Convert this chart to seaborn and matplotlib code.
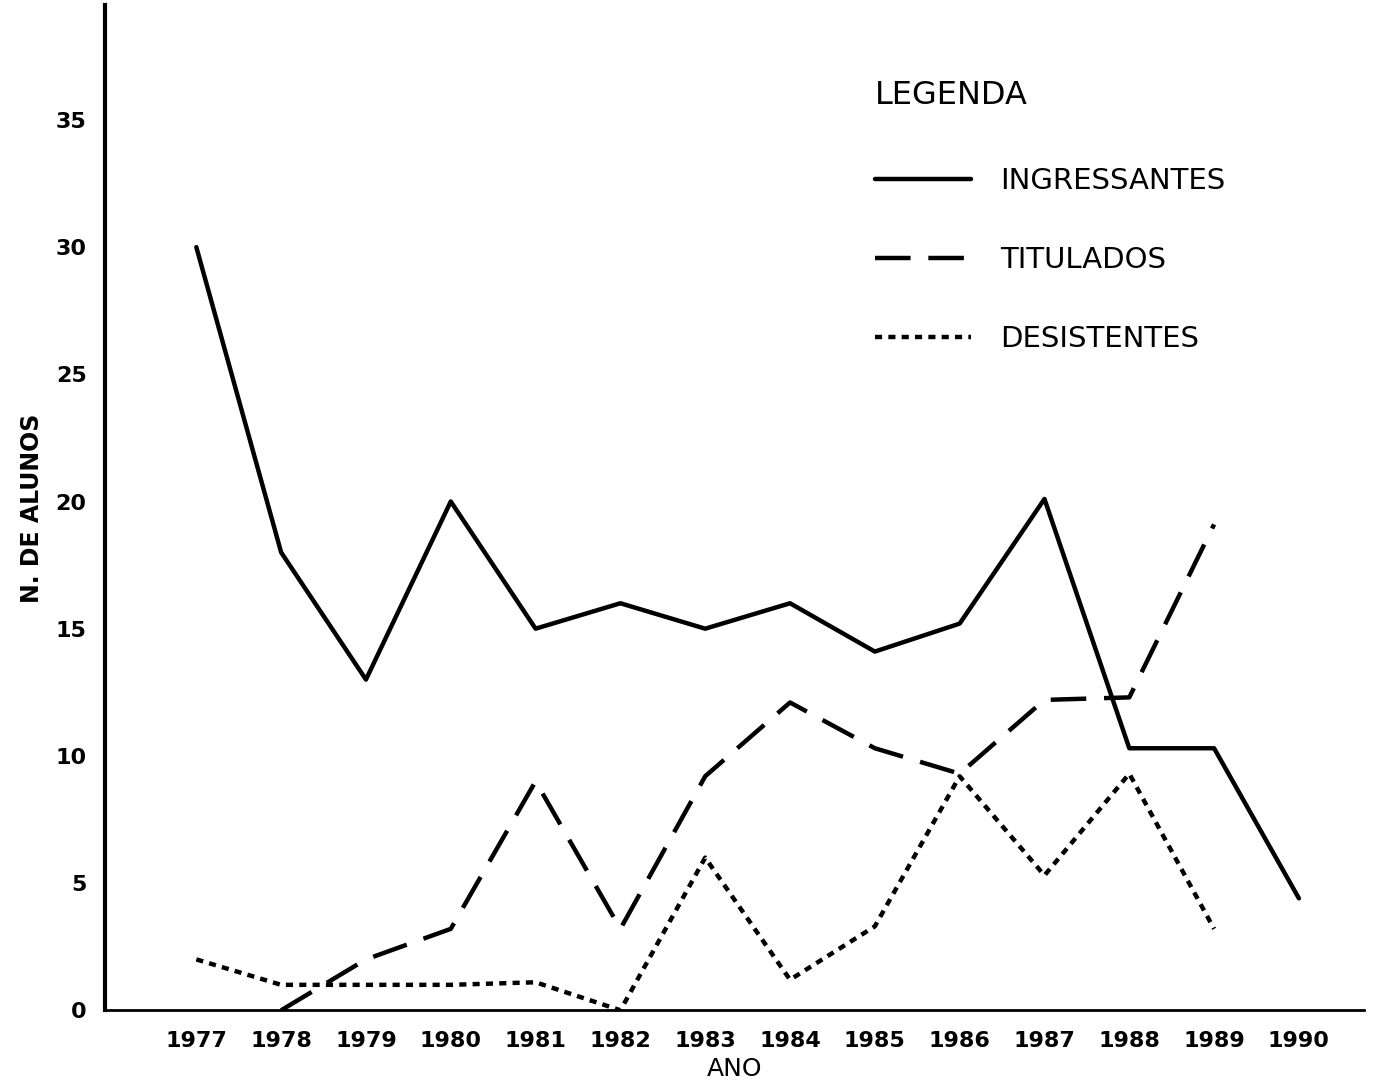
# Evolução do número de alunos por ano

import pandas as pd
import matplotlib.pyplot as plt
import seaborn as sns

anos = [1977, 1978, 1979, 1980, 1981, 1982, 1983, 1984, 1985, 1986, 1987, 1988, 1989, 1990]
ingressantes = [30, 18, 13, 20, 15, 16, 15, 16, 14.1, 15.2, 20.1, 10.3, 10.3, 4.4]
anos_tit = [1978, 1979, 1980, 1981, 1982, 1983, 1984, 1985, 1986, 1987, 1988, 1989]
titulados = [0, 2, 3.2, 9, 3.2, 9.2, 12.1, 10.3, 9.3, 12.2, 12.3, 19.1]
anos_des = [1977, 1978, 1979, 1980, 1981, 1982, 1983, 1984, 1985, 1986, 1987, 1988, 1989]
desistentes = [2, 1, 1, 1, 1.1, 0, 6, 1.2, 3.3, 9.2, 5.3, 9.3, 3.2]

df_ing = pd.DataFrame({"ano": anos, "n": ingressantes})
df_tit = pd.DataFrame({"ano": anos_tit, "n": titulados})
df_des = pd.DataFrame({"ano": anos_des, "n": desistentes})

sns.set_style("white")
plt.rcParams['font.family'] = ['DejaVu Sans']
plt.rcParams['text.color'] = 'black'
plt.rcParams['axes.labelcolor'] = 'black'
plt.rcParams['xtick.color'] = 'black'
plt.rcParams['ytick.color'] = 'black'

fig = plt.figure(figsize=(13.78, 10.91), dpi=100)
ax = fig.add_axes([0.076, 0.074, 0.914, 0.921])

sns.lineplot(data=df_ing, x="ano", y="n", ax=ax, color="black", lw=3.2,
             label="INGRESSANTES")
sns.lineplot(data=df_tit, x="ano", y="n", ax=ax, color="black", lw=3.2,
             label="TITULADOS")
ax.lines[-1].set_dashes([8, 4])
sns.lineplot(data=df_des, x="ano", y="n", ax=ax, color="black", lw=3.2,
             label="DESISTENTES")
ax.lines[-1].set_dashes([1.6, 1.4])

ax.set_xlim(1975.92, 1990.77)
ax.set_ylim(0, 39.5)
ax.set_xticks(anos)
ax.set_xticklabels([str(a) for a in anos], fontsize=16, fontweight="bold")
ax.set_yticks(range(0, 36, 5))
ax.set_yticklabels([str(v) for v in range(0, 36, 5)], fontsize=16, fontweight="bold")
ax.tick_params(axis="both", direction="inout", length=14, width=1.5, color="black")
ax.tick_params(axis="x", pad=8)
ax.tick_params(axis="y", pad=6)

for side in ["top", "right"]:
    ax.spines[side].set_visible(False)
ax.spines["left"].set_linewidth(3)
ax.spines["bottom"].set_linewidth(2)
ax.spines["left"].set_color("black")
ax.spines["bottom"].set_color("black")

ax.set_xlabel("ANO", fontsize=18, labelpad=4)
ax.set_ylabel("N. DE ALUNOS", fontsize=17, fontweight="bold", labelpad=8)

leg = ax.legend(title="LEGENDA", loc="upper left", bbox_to_anchor=(0.6, 0.94),
                frameon=False, fontsize=21, title_fontsize=23, borderpad=0,
                handlelength=3.3, labelspacing=1.75, handletextpad=1.0,
                alignment="left")
leg._legend_box.sep = 40

plt.savefig("out.png", dpi=100)
plt.close()
